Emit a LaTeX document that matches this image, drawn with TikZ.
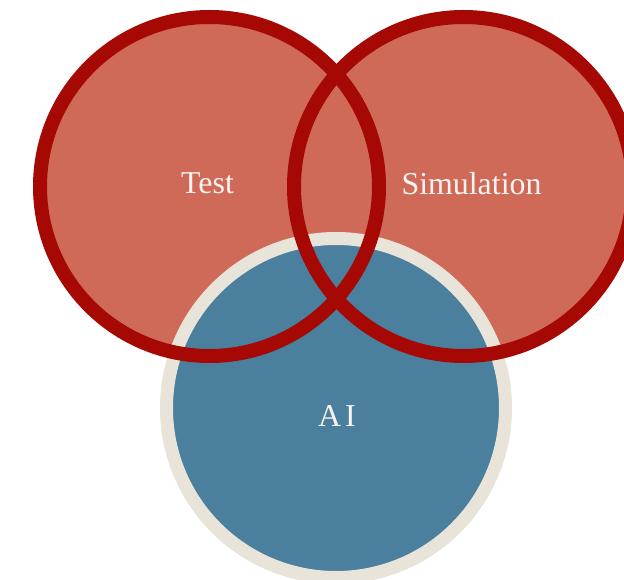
\documentclass[tikz,border=0pt]{standalone}
\usepackage{fontspec}
\setmainfont{Liberation Serif}
\definecolor{salmon}{RGB}{208,106,88}
\definecolor{ringred}{RGB}{166,8,4}
\definecolor{aiblue}{RGB}{74,127,158}
\definecolor{beige}{RGB}{232,228,218}
\definecolor{labelwhite}{RGB}{250,244,240}
\begin{document}
\begin{tikzpicture}
        [x=1bp,y=-1bp,
         lbl/.style={text=labelwhite,font=\fontsize{32}{36}\selectfont}]
        \useasboundingbox (0,0) rectangle (624,580);
        \coordinate (test) at (209.5,186.5);
        \coordinate (sim) at (463.5,186.5);
        \coordinate (ai) at (336,408);

        \fill[salmon] (test) circle (170);
        \fill[salmon] (sim) circle (170);

        \draw[beige,fill=aiblue,line width=13bp] (ai) circle (169.5);

        \draw[ringred,line width=14bp] (test) circle (169.5);
        \draw[ringred,line width=14bp] (sim) circle (169.5);

        \node[lbl] (testlbl) at ([xshift=-2bp,yshift=3bp]test) {Test};
        \node[lbl] (simlbl) at ([xshift=8bp,yshift=3bp]sim) {Simulation};
        \node[lbl] (ailbl) at ([xshift=1bp,yshift=-8bp]ai) {A\kern4pt I};
      \end{tikzpicture}
\end{document}
